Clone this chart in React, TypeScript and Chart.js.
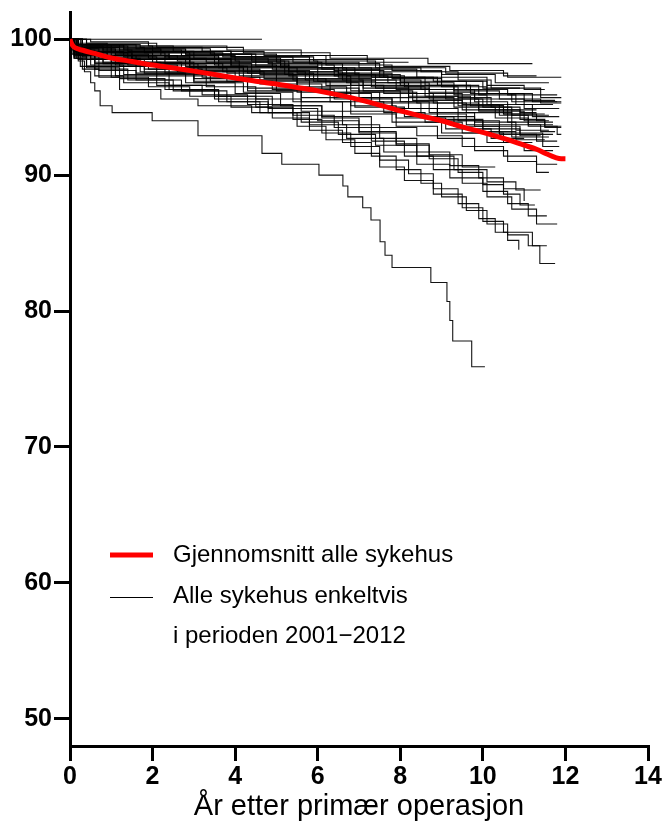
import React, { useEffect, useRef } from "react";
import { Chart, registerables } from "chart.js";

Chart.register(...registerables);

const xTicks = [0, 2, 4, 6, 8, 10, 12, 14];
const yTicks = [50, 60, 70, 80, 90, 100];
const xTitle = "År etter primær operasjon";
const legendLabels = ["Gjennomsnitt alle sykehus", "Alle sykehus enkeltvis", "i perioden 2001\u22122012"];

const averageYears = [0, 0.02, 0.05, 0.1, 0.2, 0.35, 0.6, 1, 1.5, 2, 2.5, 3, 3.5, 4, 4.5, 5, 5.5, 6, 6.5, 7, 7.5, 8, 8.5, 9, 9.5, 10, 10.5, 11, 11.3, 11.55, 11.75, 11.9, 12];
const averageSurvival = [100, 99.8, 99.6, 99.42, 99.28, 99.15, 98.95, 98.62, 98.36, 98.1, 97.88, 97.65, 97.4, 97.15, 96.9, 96.7, 96.45, 96.2, 95.9, 95.55, 95.15, 94.72, 94.35, 94.0, 93.55, 93.15, 92.7, 92.2, 91.9, 91.55, 91.3, 91.2, 91.2];

type Step = [number, number];

const hospital01: Step[] = [[0, 100], [4.65, 100]];
const hospital02: Step[] = [[0, 100], [0.4, 99.7], [2.1, 99.4], [4.2, 99.0], [6.3, 98.6], [8.67, 98.2], [11.2, 98.2]];
const hospital03: Step[] = [[0, 100], [0.5, 99.8], [1.9, 99.5], [3.8, 99.2], [5.6, 98.8], [7.2, 98.3], [8.2, 98.3]];
const hospital04: Step[] = [[0, 100], [0.2, 99.6], [1.2, 99.2], [2.8, 98.9], [4.5, 98.5], [6.2, 98.1], [7.8, 97.7], [9.0, 97.4], [10.3, 96.8], [11.6, 96.8]];
const hospital05: Step[] = [[0, 100], [0.1, 99.7], [0.9, 99.5], [2.5, 99.1], [3.9, 98.7], [5.9, 98.4], [7.4, 97.9], [9.1, 97.5], [10.6, 97.2], [11.9, 97.2]];
const hospital06: Step[] = [[0, 100], [0.3, 99.5], [1.4, 99.1], [3.0, 98.6], [4.8, 98.2], [6.6, 97.8], [8.4, 97.2], [10.1, 96.6], [11.0, 96.3], [11.5, 96.3]];
const hospital07: Step[] = [[0, 100], [0.15, 99.4], [1.0, 99.0], [2.3, 98.7], [3.6, 98.4], [5.2, 97.9], [6.9, 97.4], [8.0, 96.9], [9.6, 96.3], [10.6, 95.9], [11.8, 95.9]];
const hospital08: Step[] = [[0, 100], [0.1, 99.3], [0.7, 98.9], [1.9, 98.6], [3.3, 98.3], [4.9, 97.8], [6.4, 97.3], [7.7, 96.8], [9.3, 96.2], [10.4, 95.6], [11.4, 95.3], [11.9, 95.3]];
const hospital09: Step[] = [[0, 100], [0.25, 99.6], [1.6, 99.3], [3.4, 98.9], [5.0, 98.3], [6.1, 97.8], [7.5, 97.2], [8.9, 96.6], [9.9, 95.9], [10.8, 95.2], [11.7, 95.2]];
const hospital10: Step[] = [[0, 100], [0.2, 99.2], [1.1, 98.8], [2.6, 98.4], [4.1, 97.9], [5.5, 97.5], [7.0, 97.0], [8.5, 96.3], [9.8, 95.6], [11.0, 94.9], [11.85, 94.9]];
const hospital11: Step[] = [[0, 100], [0.1, 99.4], [0.8, 99.0], [2.0, 98.6], [3.5, 98.1], [5.0, 97.6], [6.5, 97.2], [8.0, 96.6], [9.3, 95.9], [10.1, 95.2], [11.2, 94.3], [11.85, 94.3]];
const hospital12: Step[] = [[0, 100], [0.3, 99.1], [1.3, 98.7], [2.9, 98.2], [4.4, 97.7], [5.8, 97.1], [7.3, 96.5], [8.6, 95.8], [9.7, 95.1], [10.5, 94.5], [11.3, 94.0], [11.6, 94.0]];
const hospital13: Step[] = [[0, 100], [0.1, 99.0], [0.6, 98.6], [1.7, 98.2], [3.1, 97.8], [4.6, 97.4], [6.0, 96.9], [7.4, 96.4], [8.7, 95.6], [9.9, 94.8], [10.9, 94.1], [11.5, 93.6], [11.9, 93.6]];
const hospital14: Step[] = [[0, 100], [0.2, 99.5], [1.3, 99.2], [2.7, 98.8], [4.0, 98.4], [5.3, 97.9], [6.7, 97.3], [8.1, 96.5], [9.4, 95.7], [10.2, 95.0], [10.9, 94.6], [11.3, 94.6]];
const hospital15: Step[] = [[0, 100], [0.1, 99.3], [0.5, 99.0], [1.5, 98.5], [2.9, 98.0], [4.2, 97.6], [5.7, 97.0], [7.1, 96.2], [8.3, 95.5], [9.5, 94.8], [10.6, 93.9], [11.7, 93.9]];
const hospital16: Step[] = [[0, 100], [0.3, 99.4], [1.8, 99.0], [3.5, 98.6], [5.1, 98.1], [6.4, 97.7], [7.6, 97.2], [8.8, 96.9], [10.0, 96.4], [10.9, 96.4]];
const hospital17: Step[] = [[0, 100], [0.2, 99.6], [1.0, 99.3], [2.2, 99.0], [3.7, 98.7], [5.4, 98.3], [7.0, 97.9], [8.5, 97.6], [9.4, 97.0], [10.2, 96.4], [11.4, 95.7], [11.9, 95.7]];
const hospital18: Step[] = [[0, 100], [0.15, 99.1], [0.9, 98.7], [2.1, 98.3], [3.6, 97.9], [5.2, 97.4], [6.7, 96.8], [8.2, 96.0], [9.5, 95.2], [10.4, 94.4], [11.1, 93.6], [11.8, 93.0], [11.9, 93.0]];
const hospital19: Step[] = [[0, 100], [0.1, 99.2], [0.6, 98.8], [1.5, 98.3], [2.7, 97.9], [4.1, 97.3], [5.5, 96.8], [7.0, 96.1], [8.4, 95.3], [9.6, 94.6], [10.7, 93.7], [11.4, 93.2], [11.75, 93.2]];
const hospital20: Step[] = [[0, 100], [0.4, 99.5], [2.0, 99.1], [3.9, 98.7], [5.8, 98.2], [7.5, 97.6], [9.0, 96.9], [10.1, 96.0], [11.0, 95.5], [11.75, 95.5]];
const hospital21: Step[] = [[0, 100], [0.2, 99.3], [1.1, 98.9], [2.4, 98.5], [3.9, 98.1], [5.3, 97.6], [6.6, 97.0], [7.9, 96.3], [9.1, 95.6], [10.0, 95.0], [10.7, 94.4], [11.6, 94.4]];
const hospital22: Step[] = [[0, 100], [0.1, 99.5], [0.8, 99.2], [2.2, 98.8], [3.6, 98.3], [5.1, 97.9], [6.5, 97.5], [7.8, 97.1], [9.0, 96.5], [10.1, 96.0], [11.2, 95.4], [11.9, 95.4]];
const hospital23: Step[] = [[0, 100], [0.3, 99.0], [1.4, 98.5], [2.8, 98.0], [4.3, 97.5], [5.9, 96.9], [7.1, 96.4], [8.2, 95.7], [9.3, 95.0], [10.3, 94.2], [11.1, 93.7], [11.7, 93.7]];
const hospital24: Step[] = [[0, 100], [0.15, 99.6], [1.7, 99.4], [3.2, 99.1], [4.7, 98.8], [6.2, 98.5], [7.6, 98.0], [9.2, 97.7], [10.5, 97.3], [11.3, 97.3]];
const hospital25: Step[] = [[0, 100], [0.2, 99.0], [0.9, 98.6], [2.0, 98.1], [3.3, 97.6], [4.7, 97.1], [6.2, 96.6], [7.6, 96.0], [8.8, 95.3], [9.9, 94.7], [11.0, 94.0], [11.5, 93.5], [11.9, 93.5]];
const hospital26: Step[] = [[0, 100], [0.1, 99.4], [1.2, 99.0], [2.9, 98.5], [4.5, 98.0], [6.0, 97.4], [7.4, 96.8], [8.7, 96.1], [9.8, 95.4], [10.6, 94.8], [11.3, 94.8]];
const hospital27: Step[] = [[0, 100], [0.1, 99.2], [0.5, 98.8], [1.6, 98.3], [3.0, 97.7], [4.4, 97.0], [5.8, 96.4], [7.0, 95.7], [8.2, 94.9], [9.4, 94.0], [10.4, 93.1], [11.45, 92.1], [11.85, 92.1]];
const hospital28: Step[] = [[0, 100], [0.2, 98.9], [0.8, 98.3], [1.9, 97.8], [3.2, 97.2], [4.6, 96.7], [6.1, 96.0], [7.3, 95.3], [8.5, 94.5], [9.6, 93.7], [10.7, 92.8], [11.6, 92.8]];
const hospital29: Step[] = [[0, 100], [0.1, 99.0], [0.4, 98.5], [1.2, 98.0], [2.4, 97.4], [3.8, 96.9], [5.0, 96.2], [6.3, 95.4], [7.6, 94.6], [8.6, 93.9], [9.5, 93.1], [10.5, 92.4], [11.2, 92.4]];
const hospital30: Step[] = [[0, 100], [0.3, 98.7], [1.1, 98.1], [2.3, 97.5], [3.4, 96.9], [4.9, 96.3], [6.4, 95.6], [7.8, 94.9], [8.9, 94.0], [10.0, 93.2], [10.8, 92.6], [11.5, 92.6]];
const hospital31: Step[] = [[0, 100], [0.1, 99.1], [0.5, 98.6], [1.4, 98.1], [2.6, 97.6], [4.0, 97.0], [5.5, 96.1], [6.8, 95.1], [7.9, 94.2], [9.1, 93.4], [10.2, 92.7], [11.0, 92.7]];
const hospital32: Step[] = [[0, 100], [0.2, 98.8], [1.0, 98.3], [2.2, 97.9], [3.8, 97.5], [5.4, 97.0], [6.8, 96.2], [8.0, 95.4], [8.9, 94.3], [9.8, 93.6], [10.9, 93.0], [11.7, 93.0]];
const hospital33: Step[] = [[0, 100], [0.05, 99.2], [0.2, 98.4], [0.35, 97.6], [0.5, 96.8], [0.6, 96.2], [0.73, 95.1], [1.02, 94.6], [1.99, 94.0], [3.1, 92.9], [4.65, 91.6], [5.13, 90.8], [6.03, 90.0], [6.61, 89.2], [6.73, 88.4], [7.09, 87.6], [7.29, 86.7], [7.51, 85.1], [7.63, 84.1], [7.8, 83.2], [8.74, 82.1], [9.13, 80.7], [9.2, 79.3], [9.27, 77.8], [9.73, 75.9], [10.05, 75.9]];
const hospital34: Step[] = [[0, 100], [0.1, 98.8], [0.4, 98.0], [1.0, 97.2], [1.9, 96.5], [2.9, 95.8], [3.9, 95.0], [4.9, 94.2], [5.8, 93.3], [6.6, 92.4], [7.3, 91.4], [7.9, 90.4], [8.5, 89.4], [9.0, 88.4], [9.6, 87.4], [10.1, 86.4], [10.6, 85.6], [11.1, 84.8], [11.38, 83.5], [11.75, 83.5]];
const hospital35: Step[] = [[0, 100], [0.15, 98.6], [0.6, 97.8], [1.4, 97.0], [2.5, 96.2], [3.6, 95.4], [4.6, 94.6], [5.5, 93.6], [6.2, 92.6], [6.9, 91.6], [7.5, 90.6], [8.1, 89.6], [8.8, 88.6], [9.5, 87.6], [10.0, 86.6], [10.5, 85.8], [11.2, 84.8], [11.55, 84.8]];
const hospital36: Step[] = [[0, 100], [0.1, 98.9], [0.5, 98.1], [1.3, 97.4], [2.4, 96.6], [3.5, 95.8], [4.5, 95.0], [5.4, 94.1], [6.1, 93.1], [6.8, 92.1], [7.5, 91.1], [8.2, 90.1], [8.8, 89.0], [9.4, 87.9], [9.9, 86.8], [10.3, 85.8], [10.6, 85.2], [10.87, 84.5]];
const hospital37: Step[] = [[0, 100], [0.1, 98.7], [0.4, 98.0], [1.1, 97.3], [2.1, 96.6], [3.2, 95.9], [4.3, 95.2], [5.4, 94.4], [6.4, 93.5], [7.3, 92.5], [8.1, 91.4], [8.8, 90.4], [9.5, 89.4], [10.1, 88.4], [10.7, 87.5], [11.3, 86.4], [11.8, 86.4]];
const hospital38: Step[] = [[0, 100], [0.2, 98.5], [0.7, 97.7], [1.6, 97.0], [2.7, 96.2], [3.8, 95.4], [4.8, 94.6], [5.8, 93.7], [6.7, 92.7], [7.6, 91.7], [8.4, 90.8], [9.2, 89.8], [10.0, 88.8], [10.6, 87.9], [11.1, 87.0], [11.55, 87.0]];
const hospital39: Step[] = [[0, 100], [0.1, 98.9], [0.6, 98.2], [1.6, 97.5], [2.8, 96.8], [4.0, 96.0], [5.1, 95.1], [6.1, 94.2], [7.0, 93.2], [7.9, 92.2], [8.7, 91.2], [9.4, 90.2], [10.0, 89.3], [10.5, 88.6], [10.9, 87.8], [11.26, 87.8]];
const hospital40: Step[] = [[0, 100], [0.3, 98.8], [1.0, 98.0], [2.1, 97.3], [3.3, 96.5], [4.5, 95.6], [5.6, 94.7], [6.6, 93.7], [7.5, 92.7], [8.4, 91.7], [9.2, 90.7], [9.9, 89.8], [10.5, 89.0], [11.0, 88.1]];
const hospital41: Step[] = [[0, 100], [0.15, 98.9], [0.6, 98.3], [1.7, 97.6], [3.0, 96.9], [4.3, 96.2], [5.6, 95.4], [6.8, 94.5], [7.9, 93.6], [8.9, 92.7], [9.8, 91.8], [10.6, 91.0], [11.3, 90.2], [11.6, 90.2]];
const hospital42: Step[] = [[0, 100], [0.1, 98.6], [0.4, 97.9], [1.2, 97.1], [2.3, 96.3], [3.5, 95.6], [4.8, 94.9], [6.0, 94.0], [7.0, 93.1], [7.9, 92.3], [8.7, 91.5], [9.5, 90.6], [10.3, 90.6]];
const hospital43: Step[] = [[0, 100], [0.1, 98.6], [0.3, 97.8], [0.7, 97.2], [1.2, 96.3], [2.2, 95.6], [3.1, 95.1], [4.4, 94.6], [5.6, 93.9], [6.5, 93.0], [7.4, 92.2], [8.4, 91.4], [9.3, 90.4], [10.1, 89.5], [10.8, 88.9], [11.4, 88.9]];
const hospital44: Step[] = [[0, 100], [0.05, 98.9], [0.25, 98.0], [0.6, 97.3], [1.3, 96.8], [2.4, 96.3], [3.6, 95.8], [4.9, 95.1], [6.1, 94.3], [7.3, 93.5], [8.4, 92.9], [9.5, 92.1], [10.5, 91.4], [11.3, 90.8], [11.8, 90.8]];
const hospital45: Step[] = [[0, 100], [0.1, 99.1], [0.7, 98.5], [1.8, 97.8], [3.0, 97.1], [4.3, 96.4], [5.6, 95.7], [6.9, 95.0], [8.1, 94.3], [9.3, 93.6], [10.4, 93.0], [11.3, 92.5], [11.8, 92.5]];
const hospital46: Step[] = [[0, 100], [0.2, 99.3], [1.0, 98.8], [2.3, 98.2], [3.7, 97.6], [5.0, 96.9], [6.3, 96.1], [7.5, 95.4], [8.7, 94.6], [9.8, 93.9], [10.8, 93.3], [11.6, 93.3]];
const hospital47: Step[] = [[0, 100], [0.1, 99.5], [0.9, 99.1], [2.4, 98.6], [3.9, 98.0], [5.3, 97.3], [6.8, 96.6], [8.2, 95.8], [9.4, 95.1], [10.5, 94.5], [11.5, 94.5]];
const hospital48: Step[] = [[0, 100], [0.3, 99.2], [1.5, 98.6], [2.9, 97.9], [4.2, 97.2], [5.5, 96.5], [6.7, 95.7], [7.8, 94.9], [8.9, 94.1], [10.0, 93.4], [10.9, 92.9], [11.4, 92.9]];
const hospital49: Step[] = [[0, 100], [0.1, 99.6], [1.3, 99.3], [2.8, 98.9], [4.4, 98.4], [6.0, 97.9], [7.3, 97.2], [8.6, 96.6], [9.7, 96.0], [10.7, 95.4], [11.8, 95.4]];
const hospital50: Step[] = [[0, 100], [0.2, 98.9], [0.8, 98.2], [1.8, 97.5], [3.0, 96.8], [4.2, 96.1], [5.4, 95.4], [6.6, 94.7], [7.8, 93.9], [9.0, 93.1], [10.1, 92.4], [11.0, 91.8], [11.7, 91.8]];

const hospitalCurves: Step[][] = [
  hospital01, hospital02, hospital03, hospital04, hospital05, hospital06, hospital07, hospital08, hospital09, hospital10,
  hospital11, hospital12, hospital13, hospital14, hospital15, hospital16, hospital17, hospital18, hospital19, hospital20,
  hospital21, hospital22, hospital23, hospital24, hospital25, hospital26, hospital27, hospital28, hospital29, hospital30,
  hospital31, hospital32, hospital33, hospital34, hospital35, hospital36, hospital37, hospital38, hospital39, hospital40,
  hospital41, hospital42, hospital43, hospital44, hospital45, hospital46, hospital47, hospital48, hospital49, hospital50,
];

const FONT = "'Liberation Sans', Arial, Helvetica, sans-serif";

const legendPlugin = {
  id: "insideLegend",
  afterDatasetsDraw(chart: any) {
    const { ctx, chartArea } = chart;
    const x0 = chartArea.left + 40;
    const x1 = chartArea.left + 83;
    const tx = chartArea.left + 103;
    const top = chartArea.top;
    ctx.save();
    ctx.lineCap = "butt";
    ctx.strokeStyle = "#ff0000";
    ctx.lineWidth = 5;
    ctx.beginPath();
    ctx.moveTo(x0, top + 543);
    ctx.lineTo(x1, top + 543);
    ctx.stroke();
    ctx.strokeStyle = "#000000";
    ctx.lineWidth = 1;
    ctx.beginPath();
    ctx.moveTo(x0, top + 585.5);
    ctx.lineTo(x1, top + 585.5);
    ctx.stroke();
    ctx.fillStyle = "#000000";
    ctx.font = `24px ${FONT}`;
    ctx.textAlign = "left";
    ctx.textBaseline = "alphabetic";
    ctx.fillText(legendLabels[0], tx, top + 550);
    ctx.fillText(legendLabels[1], tx, top + 591);
    ctx.fillText(legendLabels[2], tx, top + 631);
    ctx.restore();
  },
};

export default function App() {
  const canvasRef = useRef<HTMLCanvasElement | null>(null);

  useEffect(() => {
    if (!canvasRef.current) return;
    const averageData = averageYears.map((x, i) => ({ x, y: averageSurvival[i] }));
    const datasets: any[] = [
      {
        label: legendLabels[0],
        data: averageData,
        borderColor: "#ff0000",
        borderWidth: 5,
        pointRadius: 0,
        fill: false,
        cubicInterpolationMode: "monotone",
        order: 0,
      },
      ...hospitalCurves.map((curve, i) => ({
        label: `Sykehus ${i + 1}`,
        data: curve.map(([x, y]) => ({ x, y })),
        borderColor: "rgba(0,0,0,0.92)",
        borderWidth: 1.1,
        pointRadius: 0,
        fill: false,
        stepped: true,
        order: 1,
      })),
    ];

    const chart = new Chart(canvasRef.current, {
      type: "line",
      data: { datasets },
      options: {
        animation: false,
        responsive: false,
        events: [],
        layout: { padding: { top: 12, right: 18, left: 0, bottom: 0 } },
        plugins: {
          legend: { display: false },
          tooltip: { enabled: false },
        },
        scales: {
          x: {
            type: "linear",
            min: 0,
            max: 14,
            afterBuildTicks: (scale: any) => {
              scale.ticks = xTicks.map((v) => ({ value: v }));
            },
            afterFit: (scale: any) => {
              scale.height = 81;
              scale.paddingLeft = 0;
              scale.paddingRight = 0;
            },
            ticks: {
              color: "#000",
              font: { family: FONT, size: 25, weight: "bold" },
              padding: 1,
              maxRotation: 0,
              autoSkip: false,
            },
            grid: {
              drawOnChartArea: false,
              drawTicks: true,
              tickLength: 15,
              color: "#000",
              lineWidth: 3,
            },
            border: { display: true, color: "#000", width: 3 },
            title: {
              display: true,
              text: xTitle,
              color: "#000",
              font: { family: FONT, size: 29, weight: "normal" },
              padding: { top: 0, bottom: 3 },
            },
          },
          y: {
            type: "linear",
            min: 48,
            max: 102,
            afterBuildTicks: (scale: any) => {
              scale.ticks = yTicks.map((v) => ({ value: v }));
            },
            afterFit: (scale: any) => {
              scale.width = 70;
              scale.paddingTop = 0;
              scale.paddingBottom = 0;
            },
            ticks: {
              color: "#000",
              font: { family: FONT, size: 25, weight: "bold" },
              padding: 2,
              autoSkip: false,
            },
            grid: {
              drawOnChartArea: false,
              drawTicks: true,
              tickLength: 16,
              color: "#000",
              lineWidth: 3,
            },
            border: { display: true, color: "#000", width: 3 },
          },
        },
      },
      plugins: [legendPlugin],
    });

    return () => chart.destroy();
  }, []);

  return (
    <div style={{ position: "fixed", left: 0, top: 0, width: 666, height: 827, background: "#fff" }}>
      <canvas ref={canvasRef} width={666} height={827} style={{ display: "block" }} />
    </div>
  );
}
